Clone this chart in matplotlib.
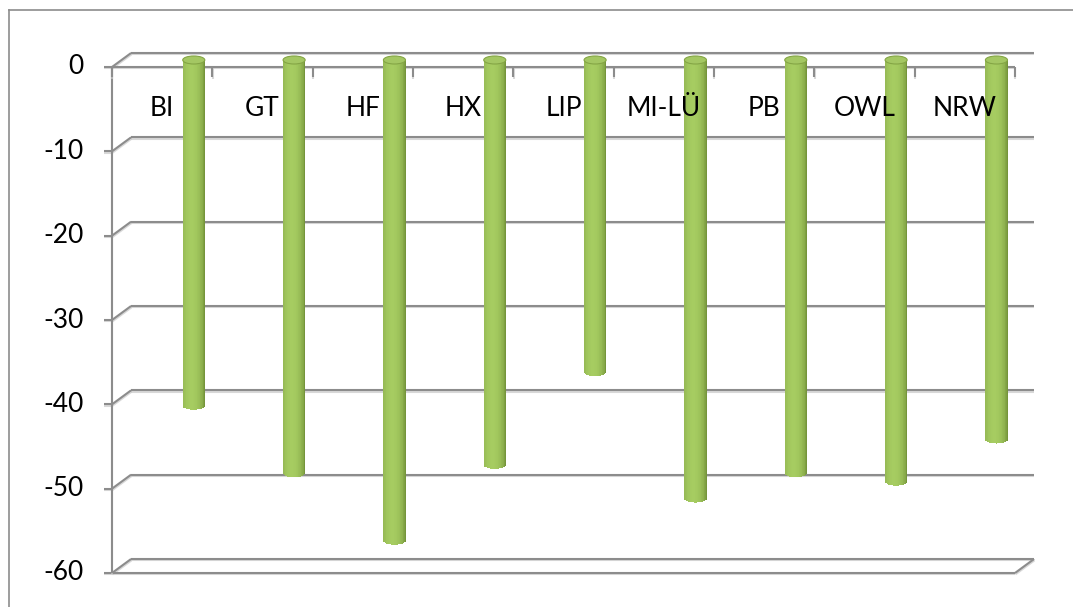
import matplotlib
matplotlib.use('Agg')
import matplotlib.pyplot as plt
import matplotlib.patheffects as pe
from matplotlib.patches import Ellipse
from matplotlib.lines import Line2D
import numpy as np

categories = ['BI', 'GT', 'HF', 'HX', 'LIP', 'MI-LÜ', 'PB', 'OWL', 'NRW']
values = [-41, -49, -57, -48, -37, -52, -49, -50, -45]
y_ticks = [0, -10, -20, -30, -40, -50, -60]

plt.rcParams['font.family'] = ['Lato', 'DejaVu Sans']

fig = plt.figure(figsize=(10.73, 6.07), dpi=100)
ax = fig.add_axes([112 / 1073, 34 / 607, 903 / 1073, 506 / 607])
ax.set_xlim(-0.5, len(categories) - 0.5)
ax.set_ylim(-60, 0)
ax.axis('off')

# oblique 3d depth of the plot box, in data units
depth_x, depth_y = 0.19, 1.66
x0, x1 = -0.5, len(categories) - 0.5
ymin, ymax = min(y_ticks), max(y_ticks)

shadow = [pe.SimpleLineShadow(offset=(0.3, -1.0), shadow_color='#c8c8c8', alpha=0.7), pe.Normal()]
grid_kw = dict(color='#8c8c8c', lw=1.5, clip_on=False, zorder=1, path_effects=shadow,
               solid_capstyle='butt')

for t in y_ticks:
    # back wall line and side wall diagonal
    ax.plot([x0 + depth_x, x1 + depth_x], [t + depth_y] * 2, **grid_kw)
    ax.plot([x0, x0 + depth_x], [t, t + depth_y], **grid_kw)
    ax.plot([x0 - 0.08, x0], [t, t], **grid_kw)
    ax.text(x0 - 0.28, t, f'{t}', ha='right', va='center', fontsize=19, color='black')

# front edges of the box
ax.plot([x0, x1], [ymax, ymax], **grid_kw)
ax.plot([x0, x1], [ymin, ymin], **grid_kw)
ax.plot([x0, x0], [ymax, ymin], **grid_kw)
ax.plot([x1, x1 + depth_x], [ymin, ymin + depth_y], **grid_kw)
for k in range(len(categories) + 1):
    ax.plot([x0 + k, x0 + k], [ymax, ymax - 1.2], **grid_kw)

# cylinders
light = np.array([0.65, 0.80, 0.38])
dark = np.array([0.42, 0.54, 0.20])
n_strips = 30
bar_w = 0.22
cap_h = 0.95
u = np.linspace(-1, 1, n_strips + 1)
u = (u[:-1] + u[1:]) / 2
f = np.clip(1 - ((u + 0.2) / 1.2) ** 2, 0, 1) ** 0.6
strip_colors = dark + (light - dark) * f[:, None]

for i, v in enumerate(values):
    cx = i + 0.22 + depth_x / 2
    top = depth_y / 2
    bottoms = v + top - cap_h / 2 * np.sqrt(1 - u ** 2)
    ax.bar(cx + u * bar_w / 2, top - bottoms, bottom=bottoms, width=bar_w / n_strips * 1.08,
           color=strip_colors, lw=0, zorder=3, clip_on=False)
    ax.add_patch(Ellipse((cx, top), bar_w, cap_h, facecolor='#a4c763', edgecolor='#84a545',
                         lw=0.8, zorder=4, clip_on=False))

for i, cat in enumerate(categories):
    ax.annotate(cat, (i, 0), xytext=(0, -41), textcoords='offset pixels',
                ha='center', va='center', fontsize=19, color='black', zorder=5)

# chart area border
fig.add_artist(Line2D([9 / 1073, 9 / 1073], [0, 597 / 607], color='#8c8c8c', lw=1.2))
fig.add_artist(Line2D([9 / 1073, 1], [597 / 607, 597 / 607], color='#8c8c8c', lw=1.2))

fig.savefig('out.png', dpi=100)
